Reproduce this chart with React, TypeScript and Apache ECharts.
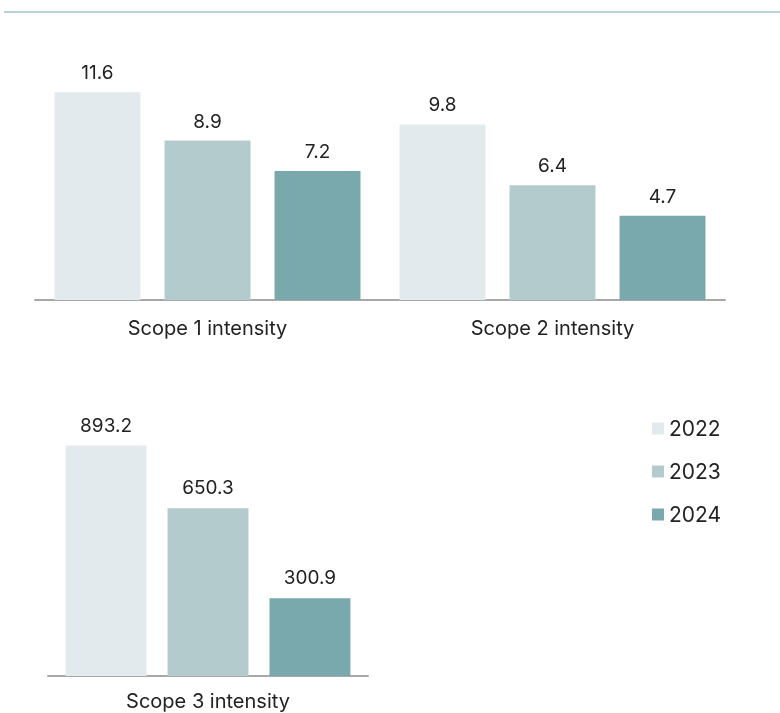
import React, { useEffect, useRef } from "react";
import * as echarts from "echarts";

const years = ["2022", "2023", "2024"];
const colors = ["#e2eaed", "#b4cbcd", "#79a9ac"];
const topCategories = ["Scope 1 intensity", "Scope 2 intensity"];
const topValues = [
  [11.6, 9.8],
  [8.9, 6.4],
  [7.2, 4.7],
];
const bottomCategories = ["Scope 3 intensity"];
const bottomValues = [[893.2], [650.3], [300.9]];

const FONT = "Inter, 'Noto Sans', sans-serif";
const TEXT = "#222222";

export default function App() {
  const ref = useRef<HTMLDivElement>(null);
  useEffect(() => {
    if (!ref.current) return;
    const chart = echarts.init(ref.current, undefined, { renderer: "svg" });
    const labelCfg = {
      show: true,
      position: "top",
      distance: 10,
      color: TEXT,
      fontSize: 19,
      fontFamily: FONT,
    };
    const series: any[] = [];
    years.forEach((y, i) => {
      series.push({
        type: "bar",
        name: y,
        xAxisIndex: 0,
        yAxisIndex: 0,
        data: topValues[i],
        itemStyle: { color: colors[i] },
        barGap: "28%",
        barCategoryGap: "11.3%",
        label: labelCfg,
      });
    });
    years.forEach((y, i) => {
      series.push({
        type: "bar",
        name: y,
        xAxisIndex: 1,
        yAxisIndex: 1,
        data: bottomValues[i],
        itemStyle: { color: colors[i] },
        barGap: "26%",
        barCategoryGap: "11%",
        label: { ...labelCfg, distance: 11 },
      });
    });
    const xAxisBase = {
      type: "category",
      axisTick: { show: false },
      axisLine: { lineStyle: { color: "#a8a8a8", width: 2 } },
    };
    const axisLabelBase = { color: TEXT, fontSize: 20, fontFamily: FONT };
    const yAxisBase = {
      type: "value",
      min: 0,
      show: false,
      splitLine: { show: false },
    };
    chart.setOption({
      animation: false,
      textStyle: { fontFamily: FONT },
      grid: [
        { left: 35, top: 85, width: 690, height: 215 },
        { left: 48, top: 418, width: 320, height: 258 },
      ],
      xAxis: [
        {
          ...xAxisBase,
          gridIndex: 0,
          data: topCategories,
          axisLabel: { ...axisLabelBase, margin: 18 },
        },
        {
          ...xAxisBase,
          gridIndex: 1,
          data: bottomCategories,
          axisLabel: { ...axisLabelBase, margin: 15 },
        },
      ],
      yAxis: [
        { ...yAxisBase, gridIndex: 0, max: 12 },
        { ...yAxisBase, gridIndex: 1, max: 1000 },
      ],
      legend: {
        data: years,
        orient: "vertical",
        left: 652,
        top: 418,
        padding: 0,
        itemWidth: 12,
        itemHeight: 12,
        itemGap: 22,
        icon: "rect",
        textStyle: { color: TEXT, fontSize: 21, fontFamily: FONT },
        selectedMode: false,
      },
      graphic: [
        {
          type: "line",
          shape: { x1: 4, y1: 12, x2: 780, y2: 12 },
          style: { stroke: "#b9cfd9", lineWidth: 2 },
        },
      ],
      series,
    });
    return () => chart.dispose();
  }, []);
  return (
    <div
      ref={ref}
      style={{ position: "fixed", left: 0, top: 0, width: 780, height: 713 }}
    />
  );
}
